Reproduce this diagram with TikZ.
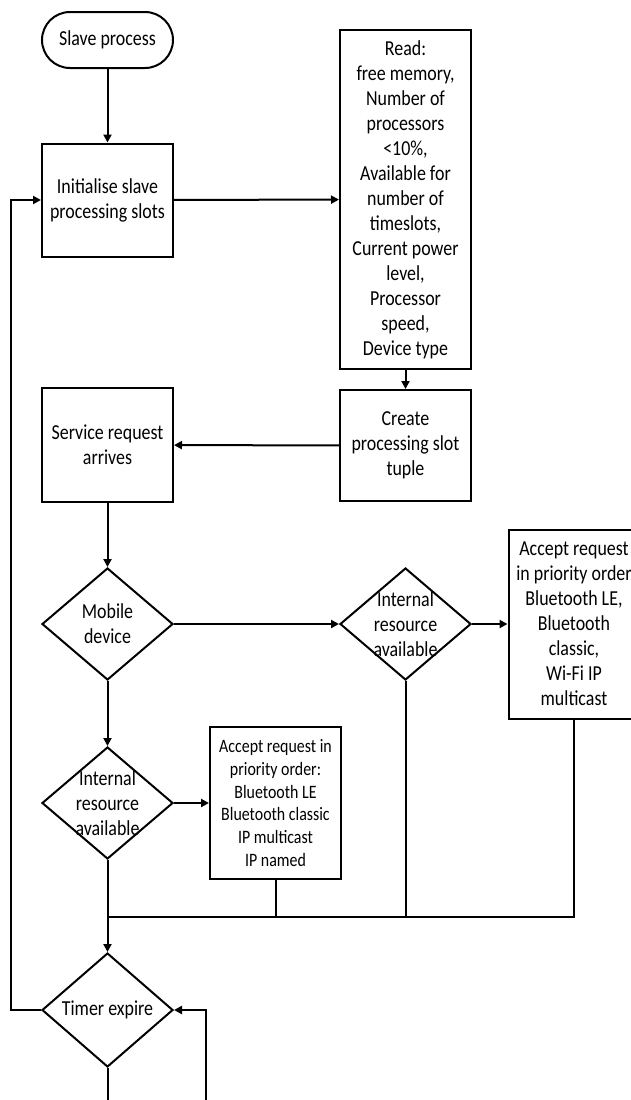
\documentclass[tikz,border=0pt]{standalone}
\usepackage{fontspec}
\setmainfont{Carlito}[FakeStretch=0.84]
\usetikzlibrary{shapes.geometric,arrows.meta}
\begin{document}
\begin{tikzpicture}[x=0.75pt,y=-0.75pt,
  line width=1.5pt,
  arr/.style={-{Triangle[length=6pt,width=6pt]}},
  mainfont/.style={font=\fontsize{16}{18.75}\selectfont},
  box/.style={draw,rectangle,inner sep=0pt,align=center,mainfont,minimum width=98.25pt},
  dia/.style={draw,diamond,inner sep=0pt,minimum width=98.25pt,minimum height=84pt},
  dlabel/.style={align=center,mainfont,inner sep=0pt},
  term/.style={draw,rectangle,rounded corners=21pt,inner sep=0pt,mainfont,minimum width=98.25pt,minimum height=42pt}
]
\useasboundingbox (0,0) rectangle (631,1100);

\node[term] (start) at (107.5,40) {Slave process};
\node[box,minimum height=84.75pt] (init) at (107.5,200) {Initialise slave\\processing slots};
\node[box,minimum height=254.25pt] (read) at (405.5,199.5) {Read:\\free memory,\\Number of\\processors\\<10\%,\\Available for\\number of\\timeslots,\\Current power\\level,\\Processor\\speed,\\Device type};
\node[box,minimum height=83.25pt] (create) at (405.5,445.5) {Create\\processing slot\\tuple};
\node[box,minimum height=85.5pt] (service) at (107.5,445) {Service request\\arrives};
\node[dia,label={[dlabel]center:Mobile\\device}] (mobile) at (107.5,624) {};
\node[dia,label={[dlabel]center:Internal\\resource\\available}] (intR) at (405.5,624) {};
\node[box,minimum height=141.75pt] (accR) at (574,624) {Accept request\\in priority order\\Bluetooth LE,\\Bluetooth\\classic,\\Wi-Fi IP\\multicast};
\node[dia,label={[dlabel]center:Internal\\resource\\available}] (intL) at (107.5,803) {};
\node[box,minimum height=114pt,font=\fontsize{14.2}{17}\selectfont] (accL) at (275.5,803) {Accept request in\\priority order:\\Bluetooth LE\\Bluetooth classic\\IP multicast\\IP named};
\node[dia,minimum height=85.5pt,label={[dlabel]center:Timer expire}] (timer) at (107.5,1010) {};

\coordinate (mj) at (107.5,917);
\coordinate (lx) at (11,600);
\coordinate (rb) at (206,1100);
\coordinate (bb) at (107.5,1100);

\draw[arr] (start) -- (init);
\draw[arr] (init) -- (read);
\draw[arr] (read) -- (create);
\draw[arr] (create) -- (service);
\draw[arr] (service) -- (mobile);
\draw[arr] (mobile) -- (intR);
\draw[arr] (intR) -- (accR);
\draw[arr] (mobile) -- (intL);
\draw[arr] (intL) -- (accL);
\draw[arr] (intL) -- (timer);
\draw (accR.south) |- (mj);
\draw (intR.south) -- (intR.south |- mj);
\draw (accL.south) -- (accL.south |- mj);
\draw[arr] (timer.west) -| (lx) |- (init.west);
\draw[arr] (rb) |- (timer.east);
\draw (timer.south) -- (bb);
\end{tikzpicture}
\end{document}
